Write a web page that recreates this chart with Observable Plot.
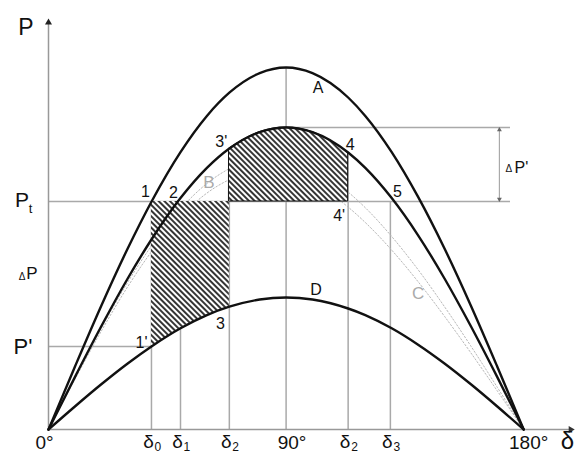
<!DOCTYPE html>
<html>
<head>
<meta charset="utf-8">
<script src="https://cdn.jsdelivr.net/npm/d3@7"></script>
<script src="https://cdn.jsdelivr.net/npm/@observablehq/plot@0.6"></script>
<style>
  body { margin: 0; background: #fff; }
  #chart svg { display: block; }
</style>
</head>
<body>
<div id="chart"></div>
<script>
// Power-angle characteristics, sampled at these load angles (degrees)
const angles = [0, 10, 20, 30, 39, 50, 60, 68.5, 80, 90, 100, 113.5, 120, 130, 140, 150, 160, 170, 180];
// Curve A: pre-fault characteristic
const curveA  = [0, 0.314, 0.619, 0.905, 1.139, 1.387, 1.568, 1.684, 1.782, 1.81, 1.782, 1.660, 1.568, 1.387, 1.163, 0.905, 0.619, 0.314, 0];
// Post-fault characteristic (points 2, 3', 4, 5)
const curveII = [0, 0.262, 0.516, 0.755, 0.950, 1.157, 1.308, 1.405, 1.487, 1.51, 1.487, 1.385, 1.308, 1.157, 0.971, 0.755, 0.516, 0.262, 0];
// Curve D: characteristic during the fault
const curveD  = [0, 0.115, 0.226, 0.330, 0.415, 0.506, 0.572, 0.614, 0.650, 0.66, 0.650, 0.605, 0.572, 0.506, 0.424, 0.330, 0.226, 0.115, 0];
// Transient characteristics B and C (dotted)
const curveB  = [0, 0.258, 0.507, 0.736, 0.918, 1.103, 1.230, 1.304, 1.353, 1.35, 1.306, 1.187, 1.109, 0.965, 0.799, 0.614, 0.417, 0.211, 0];
const curveC  = [0, 0.251, 0.492, 0.714, 0.889, 1.064, 1.182, 1.249, 1.290, 1.28, 1.232, 1.112, 1.035, 0.897, 0.739, 0.566, 0.383, 0.193, 0];

// Power levels
const Pt = 1.14;       // turbine power
const Pprime = 0.415;  // P' on curve D at delta0
const peakA = 1.81;
const peakII = 1.51;

// Characteristic angles
const d0 = 39, d1 = 50, d2a = 68.5, d2b = 113.5, d3 = 129.5;
const degreeTicks = [0, 90, 180];
const degreeLabels = ["0°", "90°", "180°"];
const deltaTicks = [d0, d1, d2a, d2b, d3];
const deltaSubs = ["0", "1", "2", "2", "3"];

const rows = angles.map((d, i) => ({d, A: curveA[i], II: curveII[i], D: curveD[i], B: curveB[i], C: curveC[i]}));
const at = (arr, a) => arr[angles.indexOf(a)];

const grid = "#a9a9a9";
const ink = "#111";
const font = "'Liberation Sans', Arial, sans-serif";
const smooth = "monotone-x";

const lbl = (t, x, y, o = {}) =>
  Plot.text([{x, y, t}], {x: "x", y: "y", text: "t", fill: ink, fontSize: 16, ...o});

const verticals = [
  {x: d0, top: Pt}, {x: d1, top: Pt}, {x: d2a, top: at(curveII, d2a)},
  {x: 90, top: peakA}, {x: d2b, top: at(curveII, d2b)}, {x: d3, top: Pt}
];
const horizontals = [
  {y: Pt, x1: 0, x2: 175}, {y: peakII, x1: 90, x2: 175}, {y: Pprime, x1: 0, x2: d0}
];
const dPx = 170.8;

const svg = Plot.plot({
  width: 580,
  height: 454,
  marginLeft: 48,
  marginRight: 4,
  marginTop: 15,
  marginBottom: 25,
  style: {fontFamily: font, background: "#fff", overflow: "hidden"},
  x: {domain: [0, 200], axis: null},
  y: {domain: [0, 2.07], axis: null},
  marks: [
    // guide lines
    Plot.ruleX(verticals, {x: "x", y1: 0, y2: "top", stroke: grid, strokeWidth: 1.5}),
    Plot.ruleY(horizontals, {y: "y", x1: "x1", x2: "x2", stroke: grid, strokeWidth: 1.5}),
    Plot.ruleX([dPx], {x: d => d, y1: Pt, y2: peakII, stroke: grid, strokeWidth: 1.2}),
    Plot.dot([{x: dPx, y: peakII - 0.012}], {x: "x", y: "y", symbol: "triangle", r: 1.8, fill: "#666"}),
    Plot.dot([{x: dPx, y: Pt + 0.012}], {x: "x", y: "y", symbol: "triangle", r: 1.8, fill: "#666", rotate: 180}),
    // transient characteristics
    Plot.line(rows, {x: "d", y: "B", curve: smooth, stroke: "#b8b8b8", strokeWidth: 1, strokeDasharray: "1.5,2"}),
    Plot.line(rows, {x: "d", y: "C", curve: smooth, stroke: "#b8b8b8", strokeWidth: 1, strokeDasharray: "1.5,2"}),
    // accelerating and decelerating areas
    Plot.areaY(rows.filter(r => r.d >= d0 && r.d <= d2a), {x: "d", y1: "D", y2: () => Pt, curve: smooth, fill: "url(#hatch)"}),
    Plot.areaY(rows.filter(r => r.d >= d2a && r.d <= d2b), {x: "d", y1: () => Pt, y2: "II", curve: smooth, fill: "url(#hatch)", stroke: ink, strokeWidth: 1}),
    // axes
    Plot.ruleX([0], {x: d => d, y1: 0, y2: 2.03, stroke: "#999", strokeWidth: 1.5}),
    Plot.ruleY([0], {y: d => d, x1: 0, x2: 197.5, stroke: "#999", strokeWidth: 1.5}),
    Plot.dot([{x: 0, y: 2.035}], {x: "x", y: "y", symbol: "triangle", r: 2.6, fill: "#222"}),
    Plot.dot([{x: 197.8, y: 0}], {x: "x", y: "y", symbol: "triangle", r: 2.6, fill: "#333", rotate: 90}),
    // characteristics
    Plot.line(rows, {x: "d", y: "A", curve: smooth, stroke: ink, strokeWidth: 2.4}),
    Plot.line(rows, {x: "d", y: "II", curve: smooth, stroke: ink, strokeWidth: 2.4}),
    Plot.line(rows, {x: "d", y: "D", curve: smooth, stroke: ink, strokeWidth: 2.4}),
    // point labels
    lbl("1", d0, Pt, {dx: -6, dy: -10}),
    lbl("2", d1, Pt, {dx: -7, dy: -9}),
    lbl("1'", d0, Pprime, {dx: -10, dy: -4}),
    lbl("3", d2a, at(curveD, d2a), {dx: -9, dy: 17}),
    lbl("3'", d2a, at(curveII, d2a), {dx: -8, dy: -7}),
    lbl("4", d2b, at(curveII, d2b), {dx: 2, dy: -8}),
    lbl("4'", d2b, Pt, {dx: -9, dy: 14}),
    lbl("5", d3, Pt, {dx: 7, dy: -10}),
    lbl("A", 90, peakA, {dx: 32, dy: 20}),
    lbl("D", 90, at(curveD, 90), {dx: 30, dy: -8}),
    lbl("B", 60, at(curveB, 60), {dx: 2, dy: -1, fill: "#aaa", fontSize: 17}),
    lbl("C", 140, at(curveC, 140), {dx: 0, dy: 12, fill: "#aaa", fontSize: 17}),
    // power axis labels
    lbl("P", 0, 2.045, {dx: -22.5, dy: 7, fontSize: 23}),
    lbl("P", 0, Pt, {dx: -26.5, dy: -1.5, fontSize: 21}),
    lbl("t", 0, Pt, {dx: -18, dy: 7, fontSize: 13}),
    lbl("Δ", 0, (Pt + Pprime) / 2, {dx: -26.5, dy: 2.5, fontSize: 10}),
    lbl("P", 0, (Pt + Pprime) / 2, {dx: -16.5, dy: 0, fontSize: 17}),
    lbl("P'", 0, Pprime, {dx: -25.5, dy: 0.5, fontSize: 22}),
    lbl("Δ", dPx, (Pt + peakII) / 2, {dx: 9.5, dy: 4.5, fontSize: 10}),
    lbl("P'", dPx, (Pt + peakII) / 2, {dx: 22, dy: 3, fontSize: 16}),
    // angle axis labels
    lbl(degreeLabels[0], degreeTicks[0], 0, {dx: -4, dy: 13.5, fontSize: 19}),
    lbl(degreeLabels[1], degreeTicks[1], 0, {dx: 6, dy: 13.5, fontSize: 19}),
    lbl(degreeLabels[2], degreeTicks[2], 0, {dx: 5, dy: 13.5, fontSize: 19}),
    Plot.text(deltaTicks, {x: d => d, y: () => 0, text: () => "δ", dx: -3, dy: 12, fontSize: 19, fill: ink}),
    Plot.text(deltaTicks, {x: d => d, y: () => 0, text: (d, i) => deltaSubs[i], dx: 3, dy: 17.5, fontSize: 12, textAnchor: "start", fill: ink}),
    lbl("δ", 200, 0, {dx: -9, dy: 11.5, fontSize: 24})
  ]
});

// diagonal hatching used by the area marks
const NS = "http://www.w3.org/2000/svg";
const el = (name, attrs) => {
  const e = document.createElementNS(NS, name);
  for (const [k, v] of Object.entries(attrs)) e.setAttribute(k, v);
  return e;
};
const defs = el("defs", {});
const pat = el("pattern", {id: "hatch", patternUnits: "userSpaceOnUse", width: 4, height: 4, patternTransform: "rotate(-45)"});
pat.appendChild(el("rect", {width: 4, height: 4, fill: "#fff"}));
pat.appendChild(el("line", {x1: 2, y1: 0, x2: 2, y2: 4, stroke: ink, "stroke-width": 1.7}));
defs.appendChild(pat);
svg.insertBefore(defs, svg.firstChild);

document.getElementById("chart").appendChild(svg);
</script>
</body>
</html>
